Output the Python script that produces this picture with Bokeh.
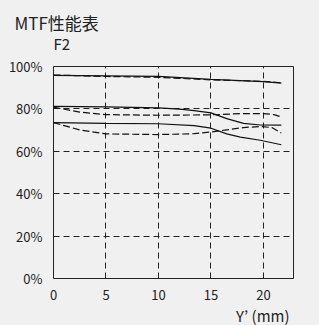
from bokeh.plotting import figure
from bokeh.models import FixedTicker, PrintfTickFormatter, Title, Range1d
from bokeh.embed import file_html
from bokeh.resources import INLINE

# --- data ---
x_ticks = [0, 5, 10, 15, 20]
y_ticks = [0, 20, 40, 60, 80, 100]

a_solid_x = [0, 5, 10, 15, 20, 21.7]
a_solid_y = [95.8, 95.6, 95.3, 93.9, 92.9, 92.2]
a_dash_x = [0, 5, 10, 15, 20, 21.7]
a_dash_y = [96.0, 95.3, 94.9, 93.7, 93.0, 92.3]

b_solid_x = [0, 5, 10, 12, 13.4, 15, 16.5, 18.1, 19.7, 21.7]
b_solid_y = [81.2, 81.0, 80.5, 79.9, 79.2, 78.1, 75.4, 73.2, 72.4, 72.3]
b_dash_x = [0, 2.5, 5, 10, 15, 18, 20, 21, 21.7]
b_dash_y = [80.8, 78.5, 77.3, 77.0, 77.2, 77.8, 77.8, 77.3, 76.2]

c_solid_x = [0, 5, 10, 13.4, 15, 16.5, 17.8, 19.7, 21.7]
c_solid_y = [73.5, 73.2, 73.0, 72.1, 70.9, 68.2, 66.7, 65.2, 63.1]
c_dash_x = [0, 2.5, 5, 10, 13.4, 15, 16.5, 18.1, 19.7, 20.8, 21.7]
c_dash_y = [73.5, 70.1, 68.2, 67.9, 68.3, 69.1, 70.1, 71.2, 71.7, 71.2, 68.6]

title_text = "MTF性能表"
subtitle_text = "F2"
xlabel_text = "Y’ (mm)"

FONT = "Noto Sans CJK JP"
BG = "#f0f0f0"
TXT = "#222222"
W, H = 319, 325

p = figure(width=W, height=H, output_backend="svg", toolbar_location=None, title=None,
           x_range=Range1d(0, 22.86), y_range=Range1d(0, 100),
           min_border_left=53, min_border_right=26, min_border_top=66, min_border_bottom=38)
p.background_fill_color = BG
p.border_fill_color = BG
p.outline_line_color = TXT
p.outline_line_width = 1

for ax in (p.xaxis, p.yaxis):
    ax.axis_line_color = None
    ax.major_tick_line_color = None
    ax.minor_tick_line_color = None
    ax.major_label_text_font = FONT
    ax.major_label_text_font_size = "13px"
    ax.major_label_text_color = TXT
    ax.major_label_standoff = 5

p.xaxis.ticker = FixedTicker(ticks=x_ticks)
p.yaxis.ticker = FixedTicker(ticks=y_ticks)
p.yaxis.formatter = PrintfTickFormatter(format="%d%%")

p.xgrid.ticker = FixedTicker(ticks=x_ticks[1:])
p.ygrid.ticker = FixedTicker(ticks=y_ticks[1:-1])
for g in (p.xgrid, p.ygrid):
    g.grid_line_color = TXT
    g.grid_line_dash = "6 4"
    g.grid_line_width = 1

lc = "#111111"
lw = 1.2
p.line(a_solid_x, a_solid_y, line_color=lc, line_width=lw)
p.line(a_dash_x, a_dash_y, line_color=lc, line_width=lw, line_dash="7 3")
p.line(b_solid_x, b_solid_y, line_color=lc, line_width=lw)
p.line(b_dash_x, b_dash_y, line_color=lc, line_width=lw, line_dash="7 3")
p.line(c_solid_x, c_solid_y, line_color=lc, line_width=lw)
p.line(c_dash_x, c_dash_y, line_color=lc, line_width=lw, line_dash="7 3")

p.add_layout(Title(text=subtitle_text, text_font=FONT, text_font_size="15px",
                   text_font_style="normal", text_color=TXT, align="left",
                   offset=0, standoff=25), "above")
p.add_layout(Title(text=title_text, text_font=FONT, text_font_size="17px",
                   text_font_style="normal", text_color=TXT, align="left",
                   offset=-39, standoff=-32), "above")
p.add_layout(Title(text=xlabel_text, text_font=FONT, text_font_size="15px",
                   text_font_style="normal", text_color=TXT, align="right",
                   offset=4, standoff=0), "below")

html = file_html(p, INLINE)
html = html.replace("<head>", "<head><style>body{background:#f0f0f0}</style>", 1)
open("out.html", "w").write(html)
